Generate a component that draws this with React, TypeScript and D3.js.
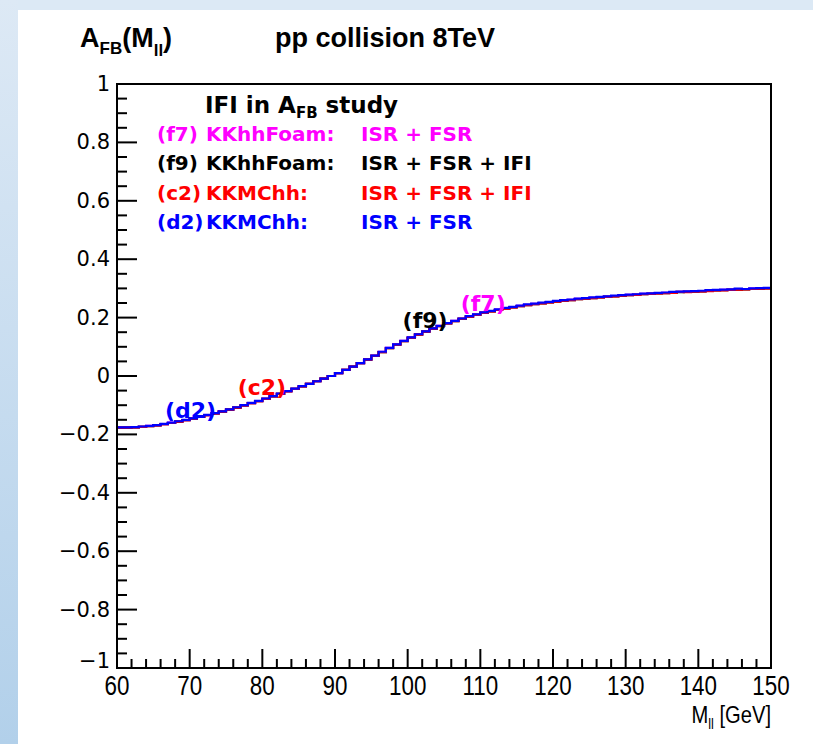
import { useMemo } from "react";
import * as d3 from "d3";

// A_FB(M_ll) per 1 GeV bin, 60..150 GeV
const massEdges = d3.range(60, 151, 1);

const afbF7 = [
  -0.177, -0.176, -0.175, -0.174, -0.171, -0.168, -0.165, -0.160, -0.156, -0.151,
  -0.145, -0.140, -0.134, -0.128, -0.121, -0.115, -0.108, -0.101, -0.093, -0.086,
  -0.078, -0.069, -0.061, -0.052, -0.044, -0.035, -0.027, -0.018, -0.009, 0.000,
  0.010, 0.021, 0.032, 0.044, 0.057, 0.070, 0.083, 0.096, 0.108, 0.120,
  0.132, 0.143, 0.153, 0.163, 0.172, 0.181, 0.189, 0.197, 0.204, 0.210,
  0.217, 0.222, 0.227, 0.232, 0.236, 0.240, 0.244, 0.247, 0.250, 0.253,
  0.256, 0.259, 0.261, 0.264, 0.266, 0.268, 0.270, 0.272, 0.274, 0.276,
  0.278, 0.279, 0.281, 0.282, 0.284, 0.285, 0.286, 0.288, 0.289, 0.290,
  0.291, 0.293, 0.294, 0.295, 0.296, 0.297, 0.298, 0.299, 0.300, 0.301,
];

const afbF9 = [
  -0.177, -0.177, -0.176, -0.174, -0.172, -0.169, -0.165, -0.161, -0.156, -0.151,
  -0.146, -0.140, -0.134, -0.128, -0.122, -0.115, -0.108, -0.101, -0.093, -0.086,
  -0.078, -0.070, -0.061, -0.052, -0.044, -0.036, -0.027, -0.018, -0.009, 0.000,
  0.010, 0.021, 0.032, 0.044, 0.056, 0.069, 0.082, 0.095, 0.107, 0.119,
  0.131, 0.142, 0.152, 0.162, 0.171, 0.180, 0.188, 0.196, 0.203, 0.209,
  0.216, 0.221, 0.226, 0.231, 0.235, 0.239, 0.243, 0.246, 0.249, 0.252,
  0.255, 0.258, 0.260, 0.263, 0.265, 0.267, 0.269, 0.271, 0.273, 0.275,
  0.277, 0.278, 0.280, 0.281, 0.283, 0.284, 0.285, 0.287, 0.288, 0.289,
  0.290, 0.292, 0.293, 0.294, 0.295, 0.296, 0.297, 0.298, 0.299, 0.300,
];

const afbC2 = [
  -0.177, -0.177, -0.176, -0.174, -0.172, -0.169, -0.165, -0.161, -0.156, -0.151,
  -0.146, -0.140, -0.134, -0.128, -0.122, -0.115, -0.108, -0.101, -0.093, -0.086,
  -0.078, -0.070, -0.061, -0.053, -0.044, -0.036, -0.027, -0.018, -0.009, 0.000,
  0.010, 0.021, 0.032, 0.044, 0.056, 0.069, 0.082, 0.095, 0.107, 0.119,
  0.131, 0.142, 0.152, 0.162, 0.171, 0.180, 0.188, 0.196, 0.203, 0.209,
  0.216, 0.221, 0.226, 0.231, 0.235, 0.239, 0.243, 0.246, 0.249, 0.252,
  0.255, 0.258, 0.260, 0.263, 0.265, 0.267, 0.269, 0.271, 0.273, 0.275,
  0.277, 0.278, 0.280, 0.281, 0.283, 0.284, 0.285, 0.288, 0.287, 0.289,
  0.290, 0.291, 0.293, 0.293, 0.295, 0.296, 0.297, 0.298, 0.299, 0.300,
];

const afbD2 = [
  -0.176, -0.176, -0.175, -0.173, -0.171, -0.168, -0.164, -0.160, -0.155, -0.150,
  -0.145, -0.139, -0.133, -0.127, -0.121, -0.114, -0.107, -0.100, -0.092, -0.085,
  -0.077, -0.069, -0.060, -0.052, -0.043, -0.035, -0.027, -0.018, -0.009, 0.000,
  0.010, 0.021, 0.032, 0.044, 0.057, 0.070, 0.083, 0.096, 0.108, 0.120,
  0.132, 0.143, 0.153, 0.163, 0.172, 0.181, 0.189, 0.197, 0.205, 0.211,
  0.218, 0.223, 0.228, 0.233, 0.237, 0.241, 0.245, 0.248, 0.251, 0.254,
  0.257, 0.260, 0.262, 0.265, 0.267, 0.269, 0.271, 0.273, 0.275, 0.277,
  0.279, 0.280, 0.282, 0.283, 0.285, 0.286, 0.288, 0.289, 0.290, 0.291,
  0.292, 0.294, 0.295, 0.296, 0.297, 0.299, 0.298, 0.300, 0.301, 0.302,
];

const seriesNames = ["f7", "f9", "c2", "d2"];
const seriesValues = [afbF7, afbF9, afbC2, afbD2];
const seriesColors = ["#ff00ff", "#000000", "#ff0000", "#0000ff"];

const legendTags = ["(f7)", "(f9)", "(c2)", "(d2)"];
const legendGenerators = ["KKhhFoam:", "KKhhFoam:", "KKMChh:", "KKMChh:"];
const legendProcesses = ["ISR + FSR", "ISR + FSR + IFI", "ISR + FSR + IFI", "ISR + FSR"];

// curve tag positions in data units (left, baseline)
const tagMass = [107.3, 99.3, 76.6, 66.6];
const tagAfb = [0.224, 0.164, -0.065, -0.145];

const yTicks = [1, 0.8, 0.6, 0.4, 0.2, 0, -0.2, -0.4, -0.6, -0.8, -1];
const xTicks = [60, 70, 80, 90, 100, 110, 120, 130, 140, 150];

const W = 813;
const H = 744;
const frame = { left: 117, right: 771, top: 84, bottom: 668 };

const sans = "'Liberation Sans', Arial, sans-serif";
const deja = "'DejaVu Sans', sans-serif";

export default function App() {
  const x = d3.scaleLinear().domain([60, 150]).range([frame.left, frame.right]);
  const y = d3.scaleLinear().domain([-1, 1]).range([frame.bottom, frame.top]);

  const paths = useMemo(
    () =>
      seriesValues.map((vals) => {
        const pts: [number, number][] = vals.map((v, i) => [massEdges[i], v]);
        pts.push([massEdges[massEdges.length - 1], vals[vals.length - 1]]);
        return d3
          .line<[number, number]>()
          .x((d) => x(d[0]))
          .y((d) => y(d[1]))
          .curve(d3.curveStepAfter)(pts);
      }),
    []
  );

  const yMinor = d3.range(-1, 1.0001, 0.05);
  const xMinor = d3.range(60, 150.001, 2);

  const fmt = (v: number) => (v === 0 ? "0" : d3.format("")(v).replace("-", "\u2212"));
  const squeeze = (cx: number, s: number) => `translate(${cx},0) scale(${s},1) translate(${-cx},0)`;

  return (
    <svg width={W} height={H} style={{ position: "absolute", left: 0, top: 0 }}>
      <defs>
        <linearGradient id="side" x1="0" y1="0" x2="0" y2="1">
          <stop offset="0" stopColor="#dde9f5" />
          <stop offset="1" stopColor="#b2d0ea" />
        </linearGradient>
      </defs>
      <rect width={W} height={H} fill="#ffffff" />
      <rect x={0} y={0} width={W} height={10} fill="#dce9f5" />
      <rect x={0} y={0} width={18} height={H} fill="url(#side)" />

      {/* title */}
      <text x={80} y={47} fontFamily={sans} fontWeight="bold" fontSize={27} fill="#000">
        A<tspan fontSize={17} dy={7}>FB</tspan>
        <tspan dy={-7}>(M</tspan>
        <tspan fontSize={17} dy={9}>ll</tspan>
        <tspan dy={-9}>)</tspan>
      </text>
      <text x={275} y={47} fontFamily={sans} fontWeight="bold" fontSize={27} fill="#000">
        pp collision 8TeV
      </text>

      {/* histograms */}
      <g>
        {paths.map((p, i) => (
          <path
            key={seriesNames[i]}
            d={p ?? ""}
            fill="none"
            stroke={seriesColors[i]}
            strokeWidth={2.2}
          />
        ))}
      </g>

      {/* frame */}
      <rect
        x={frame.left}
        y={frame.top}
        width={frame.right - frame.left}
        height={frame.bottom - frame.top}
        fill="none"
        stroke="#000"
        strokeWidth={2}
      />

      {/* y axis ticks */}
      {yMinor.map((v) => {
        const major = Math.abs(Math.round(v * 5) - v * 5) < 1e-6;
        return (
          <line
            key={`ym${v.toFixed(2)}`}
            x1={frame.left}
            x2={frame.left + (major ? 20 : 10)}
            y1={y(v)}
            y2={y(v)}
            stroke="#000"
            strokeWidth={2}
          />
        );
      })}
      {yTicks.map((v) => (
        <text
          key={`yl${v}`}
          x={110}
          y={y(v) + (v === -1 ? -7 : 0)}
          textAnchor="end"
          dominantBaseline="central"
          fontFamily={deja}
          fontSize={21}
          fill="#000"
        >
          {fmt(v)}
        </text>
      ))}

      {/* x axis ticks */}
      {xMinor.map((v) => {
        const major = Math.round(v) % 10 === 0;
        return (
          <line
            key={`xm${v}`}
            x1={x(v)}
            x2={x(v)}
            y1={frame.bottom}
            y2={frame.bottom - (major ? 19 : 9)}
            stroke="#000"
            strokeWidth={2}
          />
        );
      })}
      {xTicks.map((v) => (
        <text
          key={`xl${v}`}
          x={x(v)}
          y={695}
          textAnchor="middle"
          fontFamily={sans}
          fontSize={28}
          fill="#000"
          transform={squeeze(x(v), 0.8)}
        >
          {v}
        </text>
      ))}
      <text
        x={771}
        y={723}
        textAnchor="end"
        fontFamily={sans}
        fontSize={24}
        fill="#000"
        transform={squeeze(771, 0.84)}
      >
        M<tspan fontSize={15} dy={6}>ll</tspan>
        <tspan dy={-6}> [GeV]</tspan>
      </text>

      {/* legend */}
      <text x={205} y={113} fontFamily={deja} fontWeight="bold" fontSize={23} fill="#000">
        IFI in A<tspan fontSize={15} dy={5}>FB</tspan>
        <tspan dy={-5}> study</tspan>
      </text>
      {legendTags.map((t, i) => (
        <g key={`lg${i}`} fill={seriesColors[i]} fontFamily={deja} fontWeight="bold" fontSize={20}>
          <text x={157} y={141 + i * 29.3}>{t}</text>
          <text x={206} y={141 + i * 29.3}>{legendGenerators[i]}</text>
          <text x={361} y={141 + i * 29.3}>{legendProcesses[i]}</text>
        </g>
      ))}

      {/* curve tags */}
      {legendTags.map((t, i) => (
        <text
          key={`tag${i}`}
          x={x(tagMass[i])}
          y={y(tagAfb[i])}
          fontFamily={deja}
          fontWeight="bold"
          fontSize={22}
          fill={seriesColors[i]}
        >
          {t}
        </text>
      ))}
    </svg>
  );
}
